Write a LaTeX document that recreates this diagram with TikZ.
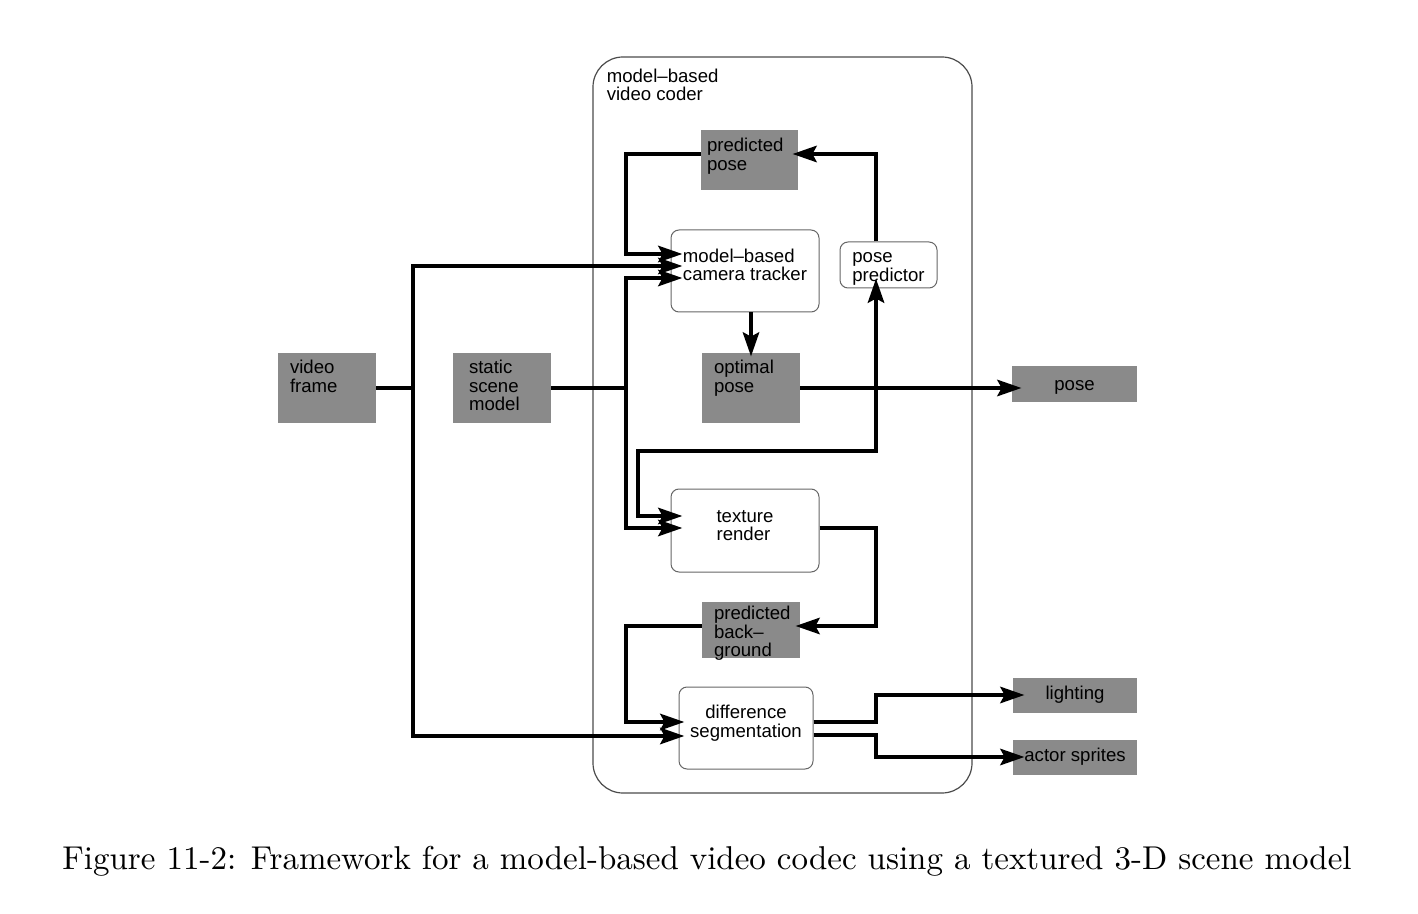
\documentclass[tikz,border=0pt]{standalone}
\usepackage{fontspec}
\setsansfont{Liberation Sans}
\newfontfamily\capfont{lmroman10-regular.otf}
\usetikzlibrary{positioning}
\usetikzlibrary{calc}
\usetikzlibrary{arrows.meta}
\newcommand{\boxfont}{\sffamily\fontsize{9.3}{9.3}\selectfont}
\tikzstyle{greybox} = [rectangle, fill=black!46, inner sep=0pt, font=\boxfont]
\tikzstyle{whitebox} = [rectangle, rounded corners=4pt, draw=black!60, line width=0.5pt, fill=white, inner sep=0pt]
\tikzstyle{outerbox} = [rectangle, rounded corners=15pt, draw=black!70, line width=0.6pt, inner sep=0pt]
\tikzstyle{boxtext} = [font=\boxfont, align=left, anchor=north west, inner sep=0pt]
\tikzstyle{wire} = [line width=2.4pt]
\tikzstyle{arrow} = [wire, -{Stealth[length=12pt,width=8pt,inset=2pt]}, shorten >=-5pt]

\begin{document}
\begin{tikzpicture}[x=0.5pt, y=-0.5pt]
\useasboundingbox (0,0) rectangle (1418,914);
\node (coder) [outerbox, minimum width=189.5pt, minimum height=368pt, label={[boxtext, xshift=7pt, yshift=-6pt]north west:{model--based\\video coder}}] at (782.5,425) {};

\node (ppose) [greybox, minimum width=48.5pt, minimum height=30pt, label={[boxtext, xshift=3pt, yshift=-4pt]north west:{predicted\\pose}}] at (749.5,160) {};
\node (vf) [greybox, minimum width=49pt, minimum height=35pt, label={[boxtext, xshift=6pt, yshift=-3.5pt]north west:{video\\frame}}] at (327,388) {};
\node (ssm) [greybox, minimum width=49pt, minimum height=35pt, label={[boxtext, xshift=8pt, yshift=-3.5pt]north west:{static\\scene\\model}}] at (502,388) {};
\node (opt) [greybox, minimum width=49pt, minimum height=35pt, label={[boxtext, xshift=6pt, yshift=-3.5pt]north west:{optimal\\pose}}] at (751,388) {};
\node (pose) [greybox, minimum width=62.5pt, minimum height=18pt, text height=6.7pt, text depth=0pt] at (1074.5,384) {pose};
\node (pbg) [greybox, minimum width=49pt, minimum height=28pt, label={[boxtext, xshift=6pt, yshift=-2pt]north west:{predicted\\back--\\ground}}] at (751,630) {};
\node (light) [greybox, minimum width=62pt, minimum height=17.5pt] at (1075,695) {lighting};
\node (actor) [greybox, minimum width=62pt, minimum height=17.5pt] at (1075,757) {actor sprites};

\node (cam) [whitebox, minimum width=74pt, minimum height=41pt, label={[boxtext, anchor=center, yshift=3pt]center:{model--based\\camera tracker}}] at (745,271) {};
\node (ppred) [whitebox, minimum width=48.5pt, minimum height=23pt, label={[boxtext, anchor=center, yshift=-2pt]center:{pose\\predictor}}] at (888.5,265) {};
\node (tex) [whitebox, minimum width=74pt, minimum height=41.5pt, label={[boxtext, anchor=center, yshift=2.5pt]center:{texture\\render}}] at (745,530.5) {};
\node (diff) [whitebox, minimum width=67pt, minimum height=41pt, label={[boxtext, anchor=center, align=center, yshift=2.5pt]center:{difference\\segmentation}}] at (746,728) {};

\coordinate (jv) at (413,388);
\coordinate (js) at (626,388);
\coordinate (jo) at (876,388);
\coordinate (jt) at (638,451);

\draw [wire] (vf.east) -- (jv);
\draw [arrow, shorten >=-6pt] (jv) |- ($(cam.west)+(0,-5)$);
\draw [arrow, shorten >=-3pt] (jv) |- ($(diff.west)+(0,8)$);
\draw [wire] (ssm.east) -- (js);
\draw [arrow, shorten >=-6pt] (js) |- ($(cam.west)+(0,7)$);
\draw [arrow, shorten >=-6pt] (js) |- ($(tex.west)+(0,-2.5)$);
\draw [arrow, shorten >=-6pt] ($(ppose.west)+(0,-6)$) -- ($(ppose.west -| js)+(0,-6)$) |- ($(cam.west)+(0,-17)$);
\draw [arrow, shorten >=-3pt] (jo |- ppred.north) |- ($(ppose.east)+(0,-6)$);
\draw [arrow, shorten >=-2pt] (opt.north |- cam.south) -- (opt.north);
\draw [arrow] (opt.east) -- (opt.east -| pose.west);
\draw [arrow] (jo) -- (jo |- ppred.south);
\draw [arrow, shorten >=-6pt] (jo) |- (jt) |- ($(tex.west)+(0,-14.5)$);
\draw [arrow, shorten >=-2.5pt] ($(tex.east)+(0,-2.5)$) -| ($(pbg.east -| jo)+(0,-4)$) -- ($(pbg.east)+(0,-4)$);
\draw [arrow, shorten >=-3pt] ($(pbg.west)+(0,-4)$) -- ($(pbg.west -| js)+(0,-4)$) |- ($(diff.west)+(0,-6)$);
\draw [arrow, shorten >=-6pt] ($(diff.east)+(0,-6)$) -- ($(diff.east -| jo)+(0,-6)$) |- (light.west);
\draw [arrow, shorten >=-6pt] ($(diff.east)+(0,7)$) -- ($(diff.east -| jo)+(0,7)$) |- (actor.west);

\node (caption) [font=\capfont\fontsize{16.5}{20}\selectfont] at (707,861) {Figure 11-2: Framework for a model-based video codec using a textured 3-D scene model};
\end{tikzpicture}
\end{document}
